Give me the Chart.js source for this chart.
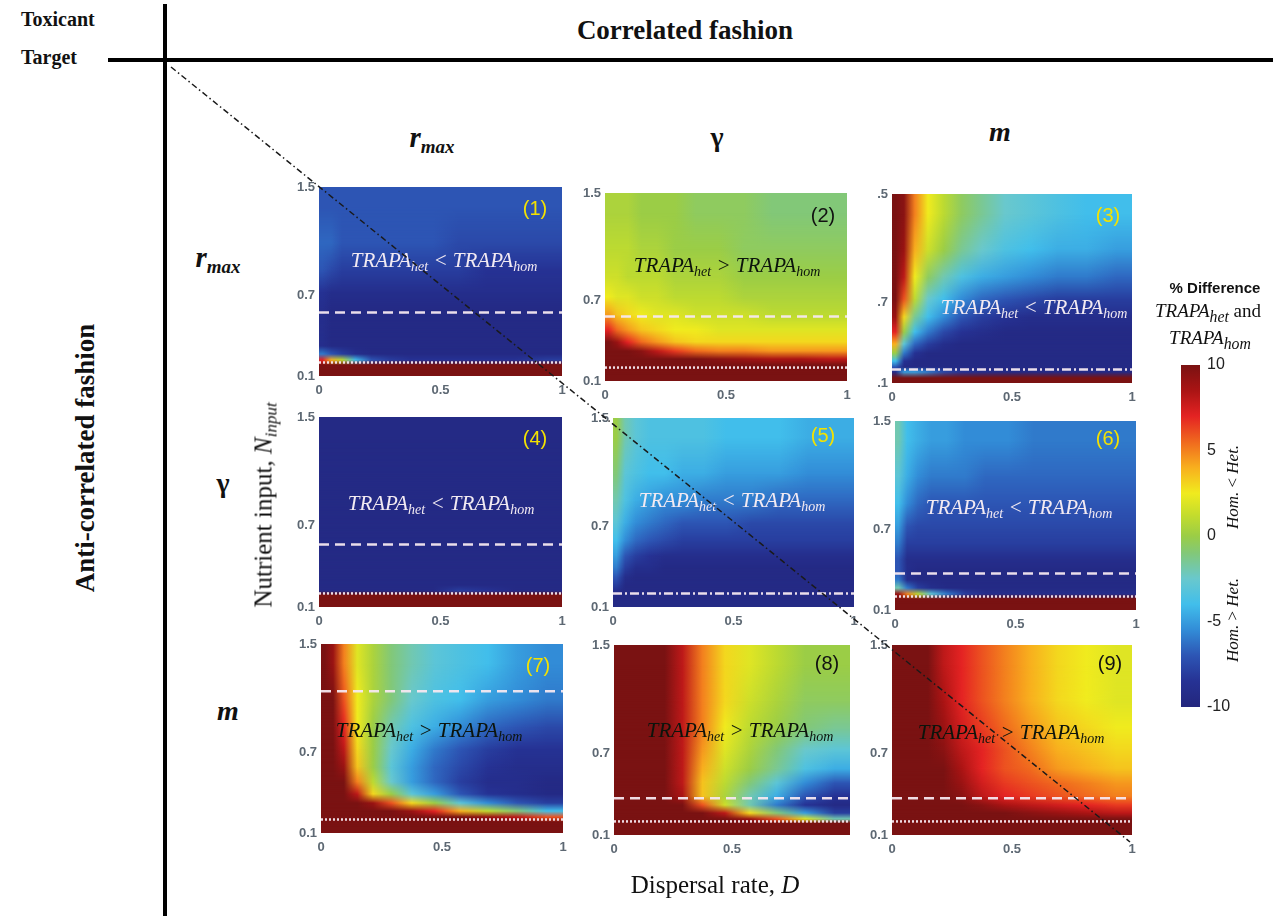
<!DOCTYPE html>
<html>
<head>
<meta charset="utf-8">
<script src="https://cdn.jsdelivr.net/npm/chart.js@4.4.1/dist/chart.umd.min.js"></script>
<style>
  html, body { margin: 0; padding: 0; background: #fff; }
  #page { position: relative; width: 1273px; height: 916px; overflow: hidden;
          font-family: "Liberation Serif", "DejaVu Serif", serif; color: #111; }
  .t { position: absolute; white-space: nowrap; transform: translate(-50%, -50%); line-height: 1; }
  .b { font-weight: bold; }
  .i { font-style: italic; }
  .tr { font-style: italic; font-size: 21px; }
  .tr sub, .sb { font-size: 14px; vertical-align: -4px; line-height: 0; }
  .num { font-family: "Liberation Sans", Arial, sans-serif; font-size: 20px; }
  .bar { position: absolute; background: #000; }
  canvas { position: absolute; }
</style>
</head>
<body>
<div id="page"></div>
<script>
// cell edges shared by all nine panels
const dispersal = [0, 0.03, 0.07, 0.12, 0.18, 0.25, 0.33, 0.42, 0.52, 0.63, 0.75, 0.87, 1.0];
const nutrient = [1.5, 1.2, 0.97, 0.8, 0.65, 0.53, 0.43, 0.35, 0.29, 0.24, 0.2, 0.17, 0.1]; // top row first
const xTicks = [0, 0.5, 1];
const yTicks = [0.1, 0.7, 1.5];
const barTicks = [-10, -5, 0, 5, 10];

// % difference, one row per nutrient band (top to bottom), one value per dispersal band
const p1 = [
  [-7, -7, -7, -7, -7, -7, -7, -7, -7, -7, -7, -7],
  [-6.5, -6.5, -7, -7, -7, -7, -7, -7, -7.5, -7.5, -7.5, -7.5],
  [-7, -7.5, -8, -8, -8, -8, -8, -8, -8, -8.5, -8.5, -8.5],
  [-8.5, -9, -9, -9, -9, -9, -9, -9, -9, -9, -9, -9],
  [-9, -9.5, -9.5, -9.5, -9.5, -9.5, -9.5, -9.5, -9.5, -9.5, -9.5, -9.5],
  [-9, -9.5, -9.5, -9.5, -9.5, -9.5, -9.5, -9.5, -9.5, -9.5, -9.5, -9.5],
  [-9, -9.5, -9.5, -9.5, -9.5, -9.5, -9.5, -9.5, -9.5, -9.5, -9.5, -9.5],
  [-9, -9.5, -9.5, -9.5, -9.5, -9.5, -9.5, -9.5, -9.5, -9.5, -9.5, -9.5],
  [-6, -7, -8, -9, -9.5, -9.5, -9.5, -9.5, -9.5, -9.5, -9.5, -9.5],
  [7, 4, 1, -4, -7, -8, -8.5, -8.5, -8.5, -8.5, -8.5, -8],
  [10, 10, 10, 10, 10, 10, 10, 10, 10, 10, 10, 10],
  [10, 10, 10, 10, 10, 10, 10, 10, 10, 10, 10, 10]
];
const p2 = [
  [0.5, 0.5, 0.5, 0, 0, 0, -0.5, -0.5, -0.5, -1, -1, -1],
  [1, 1, 1, 0.5, 0.5, 0, 0, 0, -0.5, -0.5, -0.5, -0.5],
  [1.5, 1.5, 1, 1, 1, 0.5, 0.5, 0.5, 0, 0, 0, 0],
  [2.5, 2, 2, 1.5, 1.5, 1, 1, 1, 0.5, 0.5, 0.5, 0.5],
  [4.5, 3.5, 3, 2.5, 2, 2, 1.5, 1.5, 1.5, 1, 1, 1],
  [7, 5.5, 4.5, 3.5, 3, 2.5, 2.5, 2, 2, 2, 2, 2],
  [10, 9, 7, 5.5, 4.5, 3.5, 3, 3, 3, 3, 3, 3],
  [10, 10, 10, 9.5, 8, 6.5, 5.5, 5, 5, 4.5, 4.5, 4.5],
  [10, 10, 10, 10, 10, 10, 10, 9.5, 9, 8.5, 8.5, 8],
  [10, 10, 10, 10, 10, 10, 10, 10, 10, 10, 10, 10],
  [10, 10, 10, 10, 10, 10, 10, 10, 10, 10, 10, 10],
  [10, 10, 10, 10, 10, 10, 10, 10, 10, 10, 10, 10]
];
const p3 = [
  [10, 9.5, 5, 2.5, 1, -0.5, -1.5, -2.5, -3, -3.5, -4, -4],
  [10, 9, 4, 1.5, 0, -1.5, -2.5, -3.5, -4, -4.5, -4.5, -5],
  [10, 8, 2.5, -0.5, -2, -3.5, -4.5, -5, -5.5, -6, -6, -6.5],
  [10, 6, 1, -2.5, -4, -5.5, -6.5, -7, -7.5, -8, -8, -8],
  [9, 3, -1.5, -4, -5.5, -7, -8, -8.5, -9, -9, -9, -9],
  [7, 0, -4, -6, -7.5, -8.5, -9, -9.5, -9.5, -9.5, -9.5, -9.5],
  [4, -3, -6.5, -8, -9, -9.5, -9.5, -9.5, -9.5, -9.5, -9.5, -9.5],
  [0, -6, -8.5, -9.5, -9.5, -9.5, -9.5, -9.5, -9.5, -9.5, -9.5, -9.5],
  [-4, -8.5, -9.5, -9.5, -9.5, -9.5, -9.5, -9.5, -9.5, -9.5, -9.5, -9.5],
  [-7, -9.5, -9.5, -9.5, -9.5, -9.5, -9.5, -9.5, -9.5, -9.5, -9.5, -9.5],
  [-9, -5, -5, -6, -7.5, -8.5, -9, -9.5, -9.5, -9.5, -9.5, -9.5],
  [10, 10, 10, 10, 10, 10, 10, 10, 10, 10, 10, 10]
];
const p4 = [
  [-9.5, -9.5, -9.5, -9.5, -9.5, -9.5, -9.5, -9.5, -9.5, -9.5, -9.5, -9.5],
  [-9.5, -9.5, -9.5, -9.5, -9.5, -9.5, -9.5, -9.5, -9.5, -9.5, -9.5, -9.5],
  [-9.5, -9.5, -9.5, -9.5, -9.5, -9.5, -9.5, -9.5, -9.5, -9.5, -9.5, -9.5],
  [-9.5, -9.5, -9.5, -9.5, -9.5, -9.5, -9.5, -9.5, -9.5, -9.5, -9.5, -9.5],
  [-9.5, -9.5, -9.5, -9.5, -9.5, -9.5, -9.5, -9.5, -9.5, -9.5, -9.5, -9.5],
  [-9.5, -9.5, -9.5, -9.5, -9.5, -9.5, -9.5, -9.5, -9.5, -9.5, -9.5, -9.5],
  [-9.5, -9.5, -9.5, -9.5, -9.5, -9.5, -9.5, -9.5, -9.5, -9.5, -9.5, -9.5],
  [-9.5, -9.5, -9.5, -9.5, -9.5, -9.5, -9.5, -9.5, -9.5, -9.5, -9.5, -9.5],
  [-9.5, -9.5, -9.5, -9.5, -9.5, -9.5, -9.5, -9.5, -9.5, -9.5, -9.5, -9.5],
  [-9.5, -9.5, -9.5, -9.5, -9.5, -9.5, -9.5, -9.5, -8, -8.5, -9.5, -9.5],
  [10, 10, 10, 10, 10, 10, 10, 10, 10, 10, 10, 10],
  [10, 10, 10, 10, 10, 10, 10, 10, 10, 10, 10, 10]
];
const p5 = [
  [0, -2, -3, -3.5, -3.5, -3.5, -3.5, -4, -4, -4, -4.5, -4.5],
  [-1, -3, -3.5, -4, -4, -4.5, -4.5, -5, -5, -5, -5.5, -5.5],
  [-2, -3.5, -4.5, -5, -5.5, -5.5, -6, -6, -6, -6.5, -6.5, -6.5],
  [-3, -4.5, -5.5, -6, -6.5, -7, -7, -7, -7.5, -7.5, -7.5, -7.5],
  [-4, -5.5, -6.5, -7, -7.5, -8, -8, -8, -8, -8, -8, -8],
  [-5, -7, -8, -8.5, -9, -9, -9, -9, -9, -9, -9, -9],
  [-6, -8, -9, -9, -9.5, -9.5, -9.5, -9.5, -9.5, -9.5, -9.5, -9.5],
  [-7, -9, -9.5, -9.5, -9.5, -9.5, -9.5, -9.5, -9.5, -9.5, -9.5, -9.5],
  [-8, -9.5, -9.5, -9.5, -9.5, -9.5, -9.5, -9.5, -9.5, -9.5, -9.5, -9.5],
  [-9, -9.5, -9.5, -9.5, -9.5, -9.5, -9.5, -9.5, -9.5, -9.5, -9.5, -9.5],
  [-9.5, -9.5, -9.5, -9.5, -9.5, -9.5, -9.5, -9.5, -9.5, -9.5, -9.5, -9.5],
  [-9.5, -9.5, -9.5, -9.5, -9.5, -9.5, -9.5, -9.5, -9.5, -9.5, -9.5, -9.5]
];
const p6 = [
  [-2, -4, -4.5, -5, -5, -5.5, -5.5, -5.5, -6, -6, -6, -6],
  [-3, -4.5, -5.5, -6, -6, -6, -6.5, -6.5, -6.5, -6.5, -6.5, -6.5],
  [-4, -5.5, -6.5, -7, -7, -7, -7, -7, -7, -7, -7, -7],
  [-5, -7, -7.5, -7.5, -7.5, -7.5, -7.5, -7.5, -7.5, -7.5, -7.5, -7.5],
  [-6, -8, -8, -8, -8, -8, -8, -8, -8, -8, -8, -8],
  [-7, -9, -9, -9, -9, -9, -9, -9, -9, -9, -9, -9],
  [-7, -9, -9.5, -9.5, -9.5, -9.5, -9.5, -9.5, -9.5, -9.5, -9.5, -9.5],
  [-6, -9, -9.5, -9.5, -9.5, -9.5, -9.5, -9.5, -9.5, -9.5, -9.5, -9.5],
  [-2, -6, -8, -9, -9.5, -9.5, -9.5, -9.5, -9.5, -9.5, -9.5, -9.5],
  [9, 5, 1, -3, -6, -8, -9, -9, -9, -9, -9, -9],
  [10, 10, 10, 10, 10, 10, 10, 10, 10, 10, 10, 10],
  [10, 10, 10, 10, 10, 10, 10, 10, 10, 10, 10, 10]
];
const p7 = [
  [10, 9, 5, 2, 0.5, -1, -2, -3, -3.5, -4, -5, -5.5],
  [10, 10, 6, 2.5, 0.5, -1, -2.5, -3.5, -4, -5, -5.5, -6],
  [10, 10, 7, 2.5, 0, -2, -3.5, -4.5, -5.5, -6.5, -7, -7.5],
  [10, 10, 8, 3, 0, -2.5, -4.5, -6, -7, -8, -8.5, -8.5],
  [10, 10, 9, 3.5, 0, -3, -5, -6.5, -7.5, -8.5, -9, -9],
  [10, 10, 10, 5, 1, -2.5, -5, -6.5, -8, -9, -9, -9.5],
  [10, 10, 10, 8, 3, 0, -3, -5, -7, -8.5, -9, -9.5],
  [10, 10, 10, 10, 9, 6, 3, 0, -3, -5.5, -7, -8],
  [10, 10, 10, 10, 10, 10, 9, 7, 4, 1, -1, -4],
  [10, 10, 10, 10, 10, 10, 10, 10, 10, 9, 8, 6],
  [10, 10, 10, 10, 10, 10, 10, 10, 10, 10, 10, 10],
  [10, 10, 10, 10, 10, 10, 10, 10, 10, 10, 10, 10]
];
const p8 = [
  [10, 10, 10, 10, 10, 8, 5, 3, 2, 1, 0, 0],
  [10, 10, 10, 10, 10, 8, 5, 3, 1.5, 0.5, -0.5, -0.5],
  [10, 10, 10, 10, 10, 8, 5, 2.5, 1, 0, -1, -1.5],
  [10, 10, 10, 10, 10, 8, 4.5, 2, 0.5, -1, -2.5, -3],
  [10, 10, 10, 10, 10, 8, 4, 1.5, 0, -1.5, -3.5, -4.5],
  [10, 10, 10, 10, 10, 8, 3.5, 1, -1, -3, -5.5, -7],
  [10, 10, 10, 10, 10, 8.5, 3.5, 0.5, -2, -4.5, -7, -8.5],
  [10, 10, 10, 10, 10, 10, 6, 1.5, -2, -6, -8.5, -9.5],
  [10, 10, 10, 10, 10, 10, 10, 8, 3, -1, -5, -8],
  [10, 10, 10, 10, 10, 10, 10, 10, 9, 6, 2, -2],
  [10, 10, 10, 10, 10, 10, 10, 10, 10, 10, 10, 10],
  [10, 10, 10, 10, 10, 10, 10, 10, 10, 10, 10, 10]
];
const p9 = [
  [10, 10, 10, 10, 8, 7, 6, 5, 4, 3, 2.5, 2],
  [10, 10, 10, 10, 8.5, 7, 6, 5, 4, 3, 2.5, 2],
  [10, 10, 10, 10, 9, 7.5, 6.5, 5.5, 4.5, 3.5, 3, 2.5],
  [10, 10, 10, 10, 9.5, 8, 7, 6, 5, 4, 3.5, 3],
  [10, 10, 10, 10, 10, 8.5, 7, 6, 5.5, 4.5, 4, 3.5],
  [10, 10, 10, 10, 10, 9, 7.5, 6.5, 6, 5.5, 5, 4.5],
  [10, 10, 10, 10, 10, 9.5, 8, 7, 6.5, 6, 5.5, 5],
  [10, 10, 10, 10, 10, 10, 9.5, 8.5, 8, 7.5, 7, 6.5],
  [10, 10, 10, 10, 10, 10, 10, 10, 9.5, 9, 8.5, 8],
  [10, 10, 10, 10, 10, 10, 10, 10, 10, 10, 10, 10],
  [10, 10, 10, 10, 10, 10, 10, 10, 10, 10, 10, 10],
  [10, 10, 10, 10, 10, 10, 10, 10, 10, 10, 10, 10]
];
const panels = [p1, p2, p3, p4, p5, p6, p7, p8, p9];

// white reference lines (nutrient level), null = none in that panel
const dashedLine = [0.57, 0.58, null, 0.56, null, 0.37, 1.15, 0.37, 0.37];
const dottedLine = [0.2, 0.2, null, 0.2, null, 0.2, 0.2, 0.2, 0.2];
const dashDotLine = [null, null, 0.2, null, 0.2, null, null, null, null];

// plot rectangles on the page: left, top, right, bottom
const boxes = [
  [319, 187, 562, 376], [605, 193, 847, 381], [892, 194, 1132, 383],
  [319, 417, 562, 607], [613, 418, 854, 607], [895, 421, 1136, 610],
  [321, 644, 563, 833], [614, 645, 850, 835], [892, 645, 1132, 835]
];

// jet-like colour map
const cmap = [
  [-10, [35, 38, 125]], [-8.5, [38, 50, 148]], [-7, [45, 85, 180]], [-5.5, [50, 140, 215]],
  [-4, [65, 190, 235]], [-2.5, [105, 200, 205]], [-1, [130, 200, 120]], [0, [155, 205, 70]],
  [1.2, [195, 220, 45]], [2.5, [240, 235, 30]], [4, [248, 175, 30]], [5.5, [240, 105, 30]],
  [7, [228, 35, 35]], [8.5, [170, 20, 20]], [10, [122, 18, 18]]
];
function colorFor(v) {
  if (v <= cmap[0][0]) return 'rgb(' + cmap[0][1].join(',') + ')';
  for (let k = 1; k < cmap.length; k++) {
    if (v <= cmap[k][0]) {
      const a = cmap[k - 1], b = cmap[k];
      const f = (v - a[0]) / (b[0] - a[0]);
      const c = a[1].map((q, j) => Math.round(q + (b[1][j] - q) * f));
      return 'rgb(' + c.join(',') + ')';
    }
  }
  return 'rgb(' + cmap[cmap.length - 1][1].join(',') + ')';
}

// shaded heat map: each cell's colour sits at its centre, shading blends between neighbours
const off = document.createElement('canvas');
const heatPlugin = {
  id: 'heat',
  beforeDatasetsDraw(chart, args, opts) {
    const { ctx, chartArea: a, scales: { x, y } } = chart;
    const vals = opts.values;
    const left = Math.round(a.left), top = Math.round(a.top), bottom = Math.round(a.bottom);
    const W = Math.round(a.right) - left;
    const cx = vals[0].map((_, c) => (x.getPixelForValue(dispersal[c]) + x.getPixelForValue(dispersal[c + 1])) / 2);
    const cy = vals.map((_, r) => Math.round((y.getPixelForValue(nutrient[r]) + y.getPixelForValue(nutrient[r + 1])) / 2));
    const rowGrad = (g, r, x0) => {
      const gr = g.createLinearGradient(x0, 0, x0 + W, 0);
      vals[r].forEach((v, c) => gr.addColorStop(Math.min(1, Math.max(0, (cx[c] - left) / W)), colorFor(v)));
      return gr;
    };
    ctx.save();
    const R = vals.length;
    ctx.fillStyle = rowGrad(ctx, 0, left);
    ctx.fillRect(left, top, W, cy[0] - top);
    ctx.fillStyle = rowGrad(ctx, R - 1, left);
    ctx.fillRect(left, cy[R - 1], W, bottom - cy[R - 1]);
    const oc = off.getContext('2d');
    for (let r = 0; r < R - 1; r++) {
      const h = cy[r + 1] - cy[r];
      if (h <= 0) continue;
      ctx.fillStyle = rowGrad(ctx, r, left);
      ctx.fillRect(left, cy[r], W, h);
      off.width = W;
      off.height = h;
      oc.globalCompositeOperation = 'source-over';
      oc.fillStyle = rowGrad(oc, r + 1, 0);
      oc.fillRect(0, 0, W, h);
      oc.globalCompositeOperation = 'destination-in';
      const vg = oc.createLinearGradient(0, 0, 0, h);
      vg.addColorStop(0, 'rgba(0,0,0,0)');
      vg.addColorStop(1, 'rgba(0,0,0,1)');
      oc.fillStyle = vg;
      oc.fillRect(0, 0, W, h);
      ctx.drawImage(off, left, cy[r]);
    }
    ctx.restore();
  }
};

const page = document.getElementById('page');
const tickFont = { family: 'Liberation Sans', weight: 'bold', size: 13 };
const tickColor = '#5d6873';

function hLine(v, dash) {
  return {
    data: [{ x: 0, y: v }, { x: 1, y: v }],
    showLine: true, pointRadius: 0, borderWidth: 2.5,
    borderColor: 'rgba(245,232,240,0.95)', borderDash: dash
  };
}

function makePanel(i) {
  const [l, t, r, b] = boxes[i];
  const padL = 44, padT = 9, padR = 10, padB = 24;
  const cv = document.createElement('canvas');
  const w = r - l + padL + padR, h = b - t + padT + padB;
  cv.width = w; cv.height = h;
  cv.style.left = (l - padL) + 'px'; cv.style.top = (t - padT) + 'px';
  cv.style.width = w + 'px'; cv.style.height = h + 'px';
  page.appendChild(cv);

  const sets = [];
  if (dashedLine[i] !== null) sets.push(hLine(dashedLine[i], [10, 6]));
  if (dottedLine[i] !== null) sets.push(hLine(dottedLine[i], [2, 2]));
  if (dashDotLine[i] !== null) sets.push(hLine(dashDotLine[i], [9, 3, 2, 3]));

  const xt = i === 7 ? xTicks.filter(v => v < 1) : xTicks;
  new Chart(cv, {
    type: 'scatter',
    data: { datasets: sets },
    options: {
      responsive: false, animation: false, events: [],
      layout: { padding: { top: padT, right: padR, left: 0, bottom: 0 } },
      plugins: { legend: { display: false }, tooltip: { enabled: false }, heat: { values: panels[i] } },
      scales: {
        x: {
          type: 'linear', min: 0, max: 1,
          grid: { display: false, drawTicks: false }, border: { display: false },
          afterBuildTicks: s => { s.ticks = xt.map(v => ({ value: v })); },
          afterFit: s => { s.height = padB; s.paddingLeft = 0; s.paddingRight = 0; },
          ticks: { padding: 7, font: tickFont, color: tickColor, maxRotation: 0, callback: v => String(v) }
        },
        y: {
          type: 'linear', min: 0.1, max: 1.5,
          grid: { display: false, drawTicks: false }, border: { display: false },
          afterBuildTicks: s => { s.ticks = yTicks.map(v => ({ value: v })); },
          afterFit: s => { s.width = padL; s.paddingTop = 0; s.paddingBottom = 0; },
          ticks: {
            padding: 4, font: tickFont, color: tickColor,
            callback: v => i === 2 ? String(v).replace(/^\d/, '') : String(v)
          }
        }
      }
    },
    plugins: [heatPlugin]
  });
}
for (let i = 0; i < 9; i++) makePanel(i);

// colour bar
(function () {
  const l = 1181, t = 365, r = 1200, b = 707;
  const padT = 10, padB = 10, axisW = 46;
  const cv = document.createElement('canvas');
  const w = r - l + axisW, h = b - t + padT + padB;
  cv.width = w; cv.height = h;
  cv.style.left = l + 'px'; cv.style.top = (t - padT) + 'px';
  cv.style.width = w + 'px'; cv.style.height = h + 'px';
  page.appendChild(cv);
  const barPlugin = {
    id: 'cbar',
    beforeDatasetsDraw(chart) {
      const { ctx, chartArea: a, scales: { y } } = chart;
      const top = y.getPixelForValue(10), bot = y.getPixelForValue(-10);
      const g = ctx.createLinearGradient(0, top, 0, bot);
      cmap.forEach(([v, c]) => g.addColorStop((10 - v) / 20, 'rgb(' + c.join(',') + ')'));
      ctx.fillStyle = g;
      ctx.fillRect(a.left, top, a.right - a.left, bot - top);
    }
  };
  new Chart(cv, {
    type: 'scatter',
    data: { datasets: [] },
    options: {
      responsive: false, animation: false, events: [],
      layout: { padding: { top: padT, bottom: padB, left: 0, right: 0 } },
      plugins: { legend: { display: false }, tooltip: { enabled: false } },
      scales: {
        x: { display: false, min: 0, max: 1 },
        y: {
          position: 'right', min: -10, max: 10,
          grid: { display: false, drawTicks: false }, border: { display: false },
          afterBuildTicks: s => { s.ticks = barTicks.map(v => ({ value: v })); },
          afterFit: s => { s.width = axisW; s.paddingTop = 0; s.paddingBottom = 0; },
          ticks: { padding: 7, font: { family: 'Liberation Sans', size: 16 }, color: '#222', callback: v => String(v) }
        }
      }
    },
    plugins: [barPlugin]
  });
})();

// text and frame
function label(html, x, y, cls, extra) {
  const d = document.createElement('div');
  d.className = 't ' + (cls || '');
  d.innerHTML = html;
  d.style.left = x + 'px'; d.style.top = y + 'px';
  if (extra) Object.assign(d.style, extra);
  page.appendChild(d);
  return d;
}
function bar(x, y, w, h) {
  const d = document.createElement('div');
  d.className = 'bar';
  Object.assign(d.style, { left: x + 'px', top: y + 'px', width: w + 'px', height: h + 'px' });
  page.appendChild(d);
}
bar(108, 58, 1165, 4);
bar(163, 4, 4, 912);

const lt = { transform: 'translate(0,-50%)', fontSize: '20px' };
label('Toxicant', 21, 19, 'b', lt);
label('Target', 21, 57, 'b', lt);
label('Correlated fashion', 685, 30, 'b', { fontSize: '27px' });
label('Anti-correlated fashion', 85, 458, 'b', { fontSize: '27px', transform: 'translate(-50%,-50%) rotate(-90deg)' });

const rmax = '<i>r</i><i class="sb" style="font-size:19px;vertical-align:-6px">max</i>';
label(rmax, 432, 137, 'b', { fontSize: '29px' });
label('γ', 717, 137, 'b', { fontSize: '28px' });
label('<i>m</i>', 1000, 132, 'b', { fontSize: '28px' });
label(rmax, 218, 257, 'b', { fontSize: '29px' });
label('γ', 223, 483, 'b', { fontSize: '28px' });
label('<i>m</i>', 228, 711, 'b', { fontSize: '28px' });

label('Nutrient input, <i>N</i><i class="sb" style="font-size:17px;vertical-align:-5px">input</i>', 263, 505, '',
  { fontSize: '25px', transform: 'translate(-50%,-50%) rotate(-90deg)' });
label('Dispersal rate, <i>D</i>', 715, 884, '', { fontSize: '25px' });

const lessTxt = 'TRAPA<sub>het</sub> &lt; TRAPA<sub>hom</sub>';
const moreTxt = 'TRAPA<sub>het</sub> &gt; TRAPA<sub>hom</sub>';
const white = { color: '#f2eaf2' }, black = { color: '#0c140c' };
label(lessTxt, 444, 260, 'tr', white);
label(moreTxt, 727, 265, 'tr', black);
label(lessTxt, 1034, 307, 'tr', white);
label(lessTxt, 441, 503, 'tr', white);
label(lessTxt, 732, 500, 'tr', white);
label(lessTxt, 1019, 507, 'tr', white);
label(moreTxt, 429, 730, 'tr', black);
label(moreTxt, 740, 730, 'tr', black);
label(moreTxt, 1011, 732, 'tr', black);

const yel = { color: '#f4e200' }, blk = { color: '#111' };
label('(1)', 535, 208, 'num', yel);
label('(2)', 823, 215, 'num', blk);
label('(3)', 1108, 215, 'num', yel);
label('(4)', 535, 438, 'num', yel);
label('(5)', 823, 435, 'num', yel);
label('(6)', 1108, 438, 'num', yel);
label('(7)', 538, 665, 'num', yel);
label('(8)', 827, 663, 'num', blk);
label('(9)', 1110, 663, 'num', blk);

label('% Difference', 1215, 287, 'b', { fontFamily: '"Liberation Sans", Arial, sans-serif', fontSize: '15px' });
label('<i>TRAPA<sub>het</sub></i> and', 1208, 313, '', { fontSize: '19px' });
label('<i>TRAPA<sub>hom</sub></i>', 1210, 340, '', { fontSize: '19px' });
label('<i>Hom.</i> &lt; <i>Het.</i>', 1232, 487, '', { fontSize: '17px', transform: 'translate(-50%,-50%) rotate(-90deg)' });
label('<i>Hom.</i> &gt; <i>Het.</i>', 1232, 620, '', { fontSize: '17px', transform: 'translate(-50%,-50%) rotate(-90deg)' });

// diagonal dash-dot guide across the grid
const ov = document.createElement('canvas');
ov.width = 1273; ov.height = 916;
ov.style.left = '0px'; ov.style.top = '0px'; ov.style.zIndex = 5; ov.style.pointerEvents = 'none';
page.appendChild(ov);
const octx = ov.getContext('2d');
octx.strokeStyle = '#1a1a1a'; octx.lineWidth = 1.5; octx.setLineDash([6, 3, 1.5, 3]);
octx.beginPath(); octx.moveTo(171, 67); octx.lineTo(1130, 842); octx.stroke();
</script>
</body>
</html>
